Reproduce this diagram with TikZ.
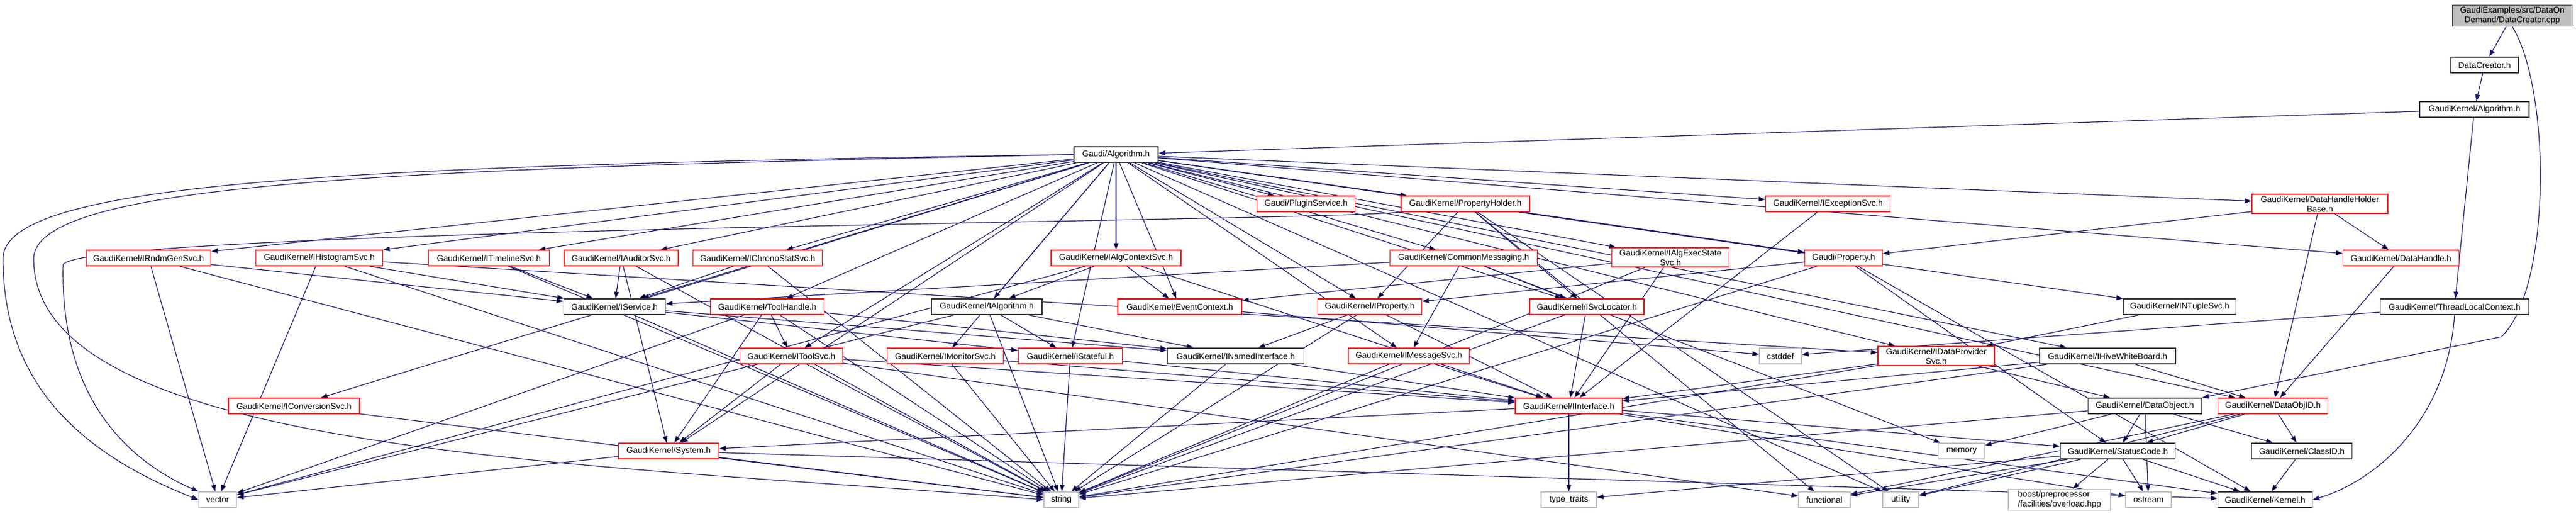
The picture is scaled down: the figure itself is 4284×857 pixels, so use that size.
\documentclass[tikz,border=0pt]{standalone}
\usepackage{fontspec}
\setmainfont{Liberation Sans}
\usetikzlibrary{arrows.meta}
\definecolor{edgeblue}{HTML}{191970}
\definecolor{sysgray}{HTML}{BFBFBF}
\pgfdeclarelayer{bg}
\pgfsetlayers{bg,main}
\tikzset{
  file/.style={draw, line width=1.4pt, fill=white, minimum height=26pt,
    inner xsep=3pt, inner ysep=3pt, align=center,
    font=\fontsize{14}{16}\selectfont},
  redf/.style={file, draw=red},
  blackf/.style={file, draw=black!80, line width=1.8pt},
  sysf/.style={file, draw=sysgray},
  inc/.style={draw=edgeblue, line width=1.2pt,
    -{Triangle[length=11pt,width=8pt]}},
}

\begin{document}
\begin{tikzpicture}[x=1pt,y=-1pt]
  \useasboundingbox (0,0) rectangle (4284,857);

  % top of the graph
  \draw (4178,26) node[blackf,fill=sysgray,minimum width=199pt] (root) {GaudiExamples/src/DataOn\\Demand/DataCreator.cpp};
  \draw (4132,108) node[blackf,minimum width=112pt] (dch) {DataCreator.h};
  \draw (4115,182) node[blackf,minimum width=182pt] (kalg) {GaudiKernel/Algorithm.h};
  \draw (1856,257) node[blackf,minimum width=140pt] (galg) {Gaudi/Algorithm.h};

  % row 4
  \draw (2172,339) node[redf,minimum width=163pt] (plug) {Gaudi/PluginService.h};
  \draw (2437,339) node[redf,minimum width=214pt] (ph) {GaudiKernel/PropertyHolder.h};
  \draw (3040,339) node[redf,minimum width=207pt] (iexc) {GaudiKernel/IExceptionSvc.h};
  \draw (3858,339) node[redf,minimum width=226pt] (dhhb) {GaudiKernel/DataHandleHolder\\Base.h};

  % row 5
  \draw (247,429) node[redf,minimum width=207pt] (rndm) {GaudiKernel/IRndmGenSvc.h};
  \draw (531,429) node[redf,minimum width=211pt] (hist) {GaudiKernel/IHistogramSvc.h};
  \draw (813,429) node[redf,minimum width=201pt] (tl) {GaudiKernel/ITimelineSvc.h};
  \draw (1033,429) node[redf,minimum width=190pt] (aud) {GaudiKernel/IAuditorSvc.h};
  \draw (1260,429) node[redf,minimum width=215pt] (chrono) {GaudiKernel/IChronoStatSvc.h};
  \draw (1856,429) node[redf,minimum width=216pt] (actx) {GaudiKernel/IAlgContextSvc.h};
  \draw (2434,429) node[redf,minimum width=245pt] (cm) {GaudiKernel/CommonMessaging.h};
  \draw (2778,428) node[redf,minimum width=195pt] (aes) {GaudiKernel/IAlgExecState\\Svc.h};
  \draw (3066,429) node[redf,minimum width=129pt] (gprop) {Gaudi/Property.h};
  \draw (3993,429) node[redf,minimum width=193pt] (dh) {GaudiKernel/DataHandle.h};

  % row 6
  \draw (1022,510) node[blackf,minimum width=169pt] (isvc) {GaudiKernel/IService.h};
  \draw (1276,510) node[redf,minimum width=189pt] (th) {GaudiKernel/ToolHandle.h};
  \draw (1641,510) node[blackf,minimum width=184pt] (ialg) {GaudiKernel/IAlgorithm.h};
  \draw (1962,510) node[redf,minimum width=206pt] (ectx) {GaudiKernel/EventContext.h};
  \draw (2278,510) node[redf,minimum width=173pt] (iprop) {GaudiKernel/IProperty.h};
  \draw (2639,510) node[redf,minimum width=190pt] (isl) {GaudiKernel/ISvcLocator.h};
  \draw (3625,510) node[blackf,minimum width=187pt] (ntup) {GaudiKernel/INTupleSvc.h};
  \draw (4082,510) node[blackf,minimum width=247pt] (tlc) {GaudiKernel/ThreadLocalContext.h};

  % row 7
  \draw (1316,592) node[redf,minimum width=171pt] (tool) {GaudiKernel/IToolSvc.h};
  \draw (1572,592) node[redf,minimum width=193pt] (mon) {GaudiKernel/IMonitorSvc.h};
  \draw (1780,592) node[redf,minimum width=173pt] (stf) {GaudiKernel/IStateful.h};
  \draw (2055,592) node[blackf,minimum width=227pt] (nif) {GaudiKernel/INamedInterface.h};
  \draw (2343,592) node[redf,minimum width=201pt] (msg) {GaudiKernel/IMessageSvc.h};
  \draw (2961,592) node[sysf,minimum width=70pt] (cstd) {cstddef};
  \draw (3220,592) node[redf,minimum width=194pt] (dps) {GaudiKernel/IDataProvider\\Svc.h};
  \draw (3505,592) node[blackf,minimum width=226pt] (hive) {GaudiKernel/IHiveWhiteBoard.h};

  % row 8
  \draw (489,675) node[redf,minimum width=218pt] (conv) {GaudiKernel/IConversionSvc.h};
  \draw (2609,675) node[redf,minimum width=178pt] (iif) {GaudiKernel/IInterface.h};
  \draw (3567,675) node[blackf,minimum width=189pt] (dobj) {GaudiKernel/DataObject.h};
  \draw (3780,675) node[redf,minimum width=183pt] (doid) {GaudiKernel/DataObjID.h};

  % row 9
  \draw (1112,750) node[redf,minimum width=167pt] (sys) {GaudiKernel/System.h};
  \draw (3262,750) node[sysf,minimum width=77pt] (mem) {memory};
  \draw (3522,750) node[blackf,minimum width=191pt] (sc) {GaudiKernel/StatusCode.h};
  \draw (3828,750) node[blackf,minimum width=167pt] (cid) {GaudiKernel/ClassID.h};

  % bottom row
  \draw (362,831) node[sysf,minimum width=63pt] (vec) {vector};
  \draw (1765,831) node[sysf,minimum width=58pt] (str) {string};
  \draw (2609,831) node[sysf,minimum width=92pt] (tt) {type\_traits};
  \draw (3034,831) node[sysf,minimum width=86pt] (func) {functional};
  \draw (3161,831) node[sysf,minimum width=60pt] (util) {utility};
  \draw (3425,831) node[sysf,minimum width=170pt,align=left] (boost) {boost/preprocessor\\/facilities/overload.hpp};
  \draw (3573,831) node[sysf,minimum width=76pt] (ostr) {ostream};
  \draw (3767,831) node[blackf,minimum width=157pt] (kern) {GaudiKernel/Kernel.h};

  \begin{pgfonlayer}{bg}
  \draw[inc] (root) -- (dch);
  \draw[inc] (root.south) .. controls (4243,150) and (4243,480) .. (4160,560) -- (dobj.north east);
  \draw[inc] (dch) -- (kalg);
  \draw[inc] (kalg) -- (galg);
  \draw[inc] (kalg) -- (tlc);

  % Gaudi/Algorithm.h includes
  \draw[inc] (galg) edge (plug) edge (ph) edge (iexc) edge (dhhb) edge (rndm)
    edge (hist) edge (tl) edge (aud) edge (chrono) edge (actx) edge (cm)
    edge (aes) edge (gprop) edge (dh) edge (isvc) edge (th) edge (ialg)
    edge (ectx) edge (iprop) edge (isl) edge (ntup) edge (tool) edge (mon)
    edge (stf) edge (msg) edge (dps) edge (hive) edge (doid) edge (sys)
    edge (util) edge (conv);
  \draw[inc] (galg.west) .. controls (600,275) and (5,300) .. (5,430) .. controls (5,650) and (150,760) .. (vec.west);
  \draw[inc] (galg.west) .. controls (700,280) and (58,300) .. (56,430) .. controls (56,760) and (1000,770) .. (str.west);
  \draw[inc] (ph.south west) .. controls (2200,368) and (140,380) .. (105,440) .. controls (100,650) and (200,760) .. (vec.north west);

  % second level
  \draw[inc] (rndm) edge (isvc) edge (vec) edge (str);
  \draw[inc] (hist) edge (isvc) edge (dps) edge (vec) edge (str);
  \draw[inc] (tl) edge (isvc) edge (str);
  \draw[inc] (aud) edge (isvc) edge (sys) edge (str);
  \draw[inc] (chrono) edge (isvc) edge (str);
  \draw[inc] (actx) edge (ialg) edge (ectx) edge (iif) edge (vec);
  \draw[inc] (cm) edge (msg) edge (isl) edge (isvc) edge (mem);
  \draw[inc] (aes) edge (iif) edge (ectx) edge (str);
  \draw[inc] (gprop) edge (iprop) edge (str) edge (kern) edge (sc);
  \draw[inc] (dhhb) edge (gprop) edge (dh) edge (doid);
  \draw[inc] (dh) edge (doid);
  \draw[inc] (ph) edge (iprop) edge (gprop) edge (func) edge (util) edge (isl);
  \draw[inc] (iexc) edge (iif);

  % third level
  \draw[inc] (isvc) edge (nif) edge (stf) edge (str);
  \draw[inc] (th) edge (tool) edge (nif) edge (sys) edge (vec) edge (str);
  \draw[inc] (ialg) edge (nif) edge (stf) edge (vec) edge (str);
  \draw[inc] (ectx) edge (cstd);
  \draw[inc] (iprop) edge (iif) edge (nif) edge (str);
  \draw[inc] (isl) edge (iif) edge (str);
  \draw[inc] (ntup) edge (dps);
  \draw[inc] (tlc) edge (cstd);
  \draw[inc] (tlc.south) .. controls (4070,700) and (3950,800) .. (kern.east);

  % interfaces
  \draw[inc] (tool) edge (sys) edge (str) edge (iif) edge (func);
  \draw[inc] (mon) edge (iif) edge (str);
  \draw[inc] (stf) edge (iif) edge (str);
  \draw[inc] (nif) edge (iif) edge (str);
  \draw[inc] (msg) edge (iif) edge (str);
  \draw[inc] (dps) edge (iif) edge (dobj) edge (str);
  \draw[inc] (hive) edge (iif) edge (doid) edge (str);
  \draw[inc] (conv) edge (str);
  \draw[inc] (iif) edge (tt) edge (sys) edge (sc) edge (kern) edge (ostr);
  \draw[inc] (dobj) edge (cid) edge (sc) edge (mem) edge (ostr) edge (str);
  \draw[inc] (doid) edge (cid) edge (sc) edge (func) edge (util);
  \draw[inc] (sys) edge (kern) edge (str) edge (vec);
  \draw[inc] (sc) edge (boost) edge (ostr) edge (kern) edge (util) edge (func) edge (tt);
  \draw[inc] (cid) edge (kern);
  \end{pgfonlayer}
\end{tikzpicture}
\end{document}
